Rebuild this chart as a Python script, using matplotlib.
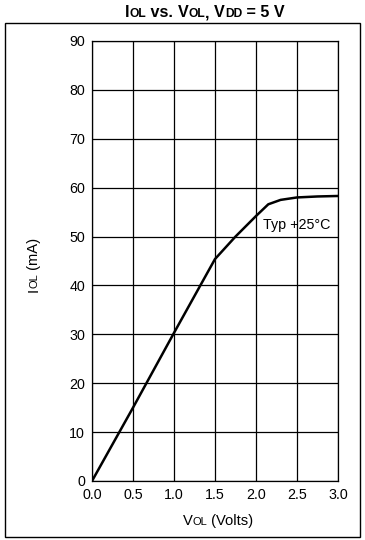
import matplotlib
matplotlib.use("Agg")
import matplotlib.pyplot as plt
from matplotlib.patches import Rectangle

plt.rcParams['font.family'] = ['Liberation Sans', 'DejaVu Sans']

# Data
vol = [0.0, 0.5, 1.0, 1.5, 1.75, 2.0, 2.15, 2.3, 2.5, 2.75, 3.0]
iol = [0.0, 15.0, 30.3, 45.4, 50.0, 54.2, 56.6, 57.5, 58.0, 58.2, 58.3]
xticks = [0.0, 0.5, 1.0, 1.5, 2.0, 2.5, 3.0]
xticklabels = ['0.0', '0.5', '1.0', '1.5', '2.0', '2.5', '3.0']
yticks = [0, 10, 20, 30, 40, 50, 60, 70, 80, 90]
annot_text = 'Typ +25°C'
annot_pos = (2.08, 52.3)

W, H = 365, 540
fig = plt.figure(figsize=(W / 100, H / 100), dpi=100)
ax = fig.add_axes([92 / W, 1 - 481 / H, (338 - 92) / W, (481 - 41) / H])

ax.plot(vol, iol, color='black', lw=1.8, solid_joinstyle='round')
ax.set_xlim(0, 3.0)
ax.set_ylim(0, 90)
ax.set_xticks(xticks)
ax.set_xticklabels(xticklabels)
ax.set_yticks(yticks)
ax.grid(True, color='black', lw=0.9)
for s in ax.spines.values():
    s.set_linewidth(0.9)
ax.tick_params(axis='both', length=0, labelsize=10.3, colors='black')
ax.tick_params(axis='x', pad=5)
ax.tick_params(axis='y', pad=5)
ax.text(annot_pos[0], annot_pos[1], annot_text, fontsize=10.3, ha='left', va='center')

# outer frame
fig.patches.append(Rectangle((5 / W, 1 - 537 / H), 355 / W, (537 - 23) / H,
                             transform=fig.transFigure, fill=False,
                             edgecolor='black', lw=1.0))

renderer = fig.canvas.get_renderer()


def rich(cx, cy, pieces, rotation=0):
    """pieces: list of (text, size, weight). cx, cy in pixels (origin top-left)."""
    widths = []
    for t, sz, wt in pieces:
        tmp = fig.text(0, 0, t, fontsize=sz, fontweight=wt)
        bb = tmp.get_window_extent(renderer)
        widths.append(bb.width)
        tmp.remove()
    total = sum(widths)
    pos = -total / 2
    for (t, sz, wt), w in zip(pieces, widths):
        if rotation == 0:
            x, y = cx + pos, cy
        else:
            x, y = cx, cy - pos
        fig.text(x / W, 1 - y / H, t, fontsize=sz, fontweight=wt,
                 ha='left', va='baseline', rotation=rotation,
                 rotation_mode='anchor')
        pos += w


big_t, small_t = 11.6, 8.7
rich(205, 17, [('I', big_t, 'bold'), ('OL', small_t, 'bold'), (' vs. ', big_t, 'bold'),
               ('V', big_t, 'bold'), ('OL', small_t, 'bold'), (', ', big_t, 'bold'),
               ('V', big_t, 'bold'), ('DD', small_t, 'bold'), (' = 5 V', big_t, 'bold')])
big, small = 10.6, 8.0
rich(218, 525, [('V', big, 'normal'), ('OL', small, 'normal'), (' (Volts)', big, 'normal')])
rich(38, 265, [('I', big, 'normal'), ('OL', small, 'normal'), (' (mA)', big, 'normal')],
     rotation=90)

fig.savefig('out.png', dpi=100)
